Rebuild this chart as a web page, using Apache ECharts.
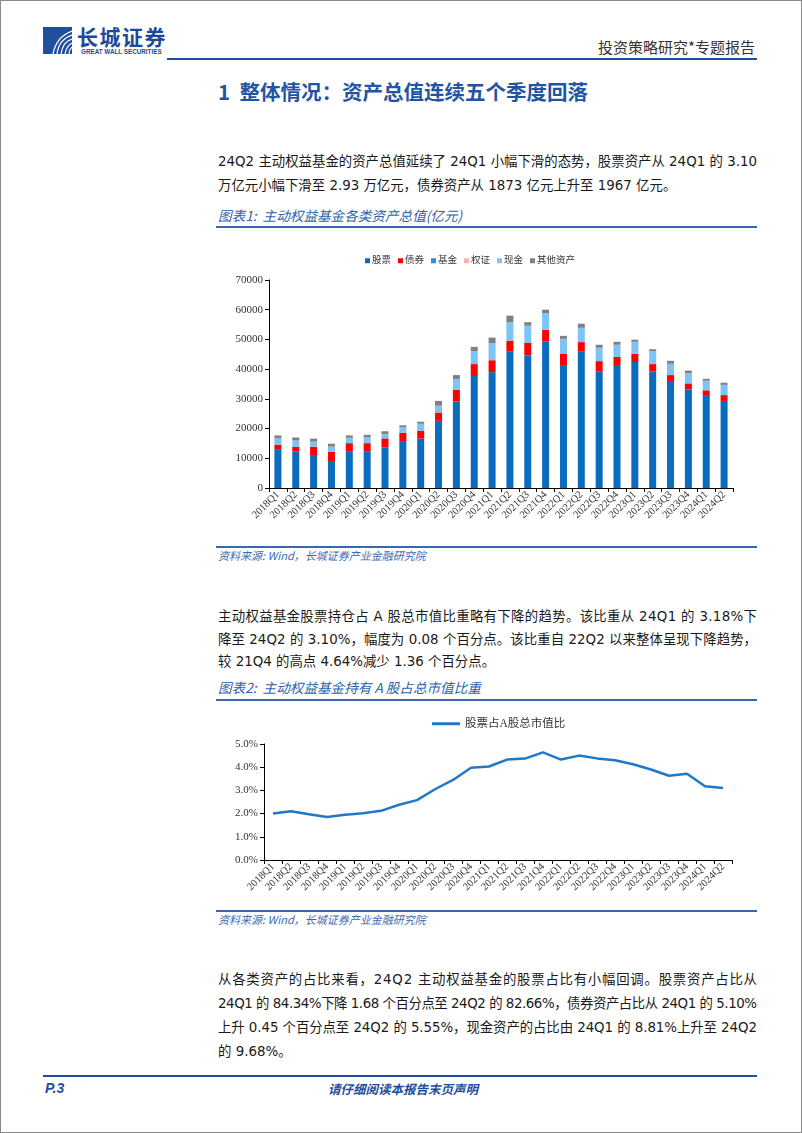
<!DOCTYPE html>
<html><head><meta charset="utf-8">
<script src="https://cdn.jsdelivr.net/npm/echarts@6/dist/echarts.min.js"></script>
<style>
html,body{margin:0;padding:0;background:#fff;}
body{width:802px;height:1133px;position:relative;overflow:hidden;font-family:"DejaVu Sans","Noto Sans CJK SC",sans-serif;}
.abs{position:absolute;}
.frame{left:0;top:0;width:802px;height:1133px;box-sizing:border-box;border:1px solid #8a8a8a;}
.para div{position:absolute;left:218px;font-size:13.4px;color:#1a1a1a;white-space:nowrap;}
.cap{left:218px;font-size:13.6px;font-style:italic;color:#2f63ad;font-family:"Noto Sans CJK SC",sans-serif;}
.src{left:218px;font-size:11px;font-style:italic;color:#3a6cb5;font-family:"Noto Sans CJK SC",sans-serif;}
.hline{height:1.5px;background:#3c67a8;left:216px;width:541px;}
</style></head>
<body>
<div class="abs frame"></div>
<!-- header -->
<svg class="abs" style="left:43px;top:27px" width="29" height="27" viewBox="0 0 29 27">
<rect x="0" y="0" width="29" height="27" fill="#1f4f9e"/>
<path d="M29 4 C18 8 12 16 10 27" stroke="#fff" stroke-width="1.2" fill="none"/>
<path d="M29 8 C20 11 15 18 14 27" stroke="#fff" stroke-width="1.2" fill="none"/>
<path d="M29 12 C22 14 19 20 18 27" stroke="#fff" stroke-width="1.2" fill="none"/>
<path d="M29 16 C25 18 23 22 22 27" stroke="#fff" stroke-width="1.2" fill="none"/>
<path d="M29 20 C27 22 26 24 26 27" stroke="#fff" stroke-width="1.2" fill="none"/>
</svg>
<div class="abs" style="left:77px;top:24px;font-size:21px;font-weight:bold;color:#1c4a98;font-family:'Noto Sans CJK SC';letter-spacing:1.5px;line-height:24px">长城证券</div>
<div class="abs" style="left:81px;top:48px;font-size:6.3px;font-weight:bold;color:#1c4a98;font-family:'Liberation Sans';line-height:7px">GREAT WALL SECURITIES</div>
<div class="abs" style="left:598px;top:37px;font-size:15px;color:#333;font-family:'Noto Sans CJK SC';line-height:19px">投资策略研究*专题报告</div>
<div class="abs" style="left:167px;top:58px;width:590px;height:2px;background:#1f4e9c"></div>
<div class="abs" style="left:218px;top:78px;font-size:20.5px;font-weight:bold;color:#1f55a5;font-family:'Noto Sans CJK SC';line-height:26px">1&nbsp;&nbsp;整体情况：资产总值连续五个季度回落</div>

<div class="para">
<div class="just" style="top:150px">24Q2 主动权益基金的资产总值延续了 24Q1 小幅下滑的态势，股票资产从 24Q1 的 3.10</div>
<div style="top:174px">万亿元小幅下滑至 2.93 万亿元，债券资产从 1873 亿元上升至 1967 亿元。</div>
</div>
<div class="abs cap" style="top:205px">图表1:&nbsp;&nbsp;主动权益基金各类资产总值(亿元)</div>
<div class="abs hline" style="top:226px"></div>
<div id="c1" class="abs" style="left:210px;top:230px;width:560px;height:315px"></div>
<div class="abs hline" style="top:546px"></div>
<div class="abs src" style="top:547px">资料来源:&nbsp;Wind，长城证券产业金融研究院</div>

<div class="para">
<div class="just" style="top:605px">主动权益基金股票持仓占 A 股总市值比重略有下降的趋势。该比重从 24Q1 的 3.18%下</div>
<div class="just" style="top:628px">降至 24Q2 的 3.10%，幅度为 0.08 个百分点。该比重自 22Q2 以来整体呈现下降趋势，</div>
<div style="top:650px">较 21Q4 的高点 4.64%减少 1.36 个百分点。</div>
</div>
<div class="abs cap" style="top:677px">图表2:&nbsp;&nbsp;主动权益基金持有 A 股占总市值比重</div>
<div class="abs hline" style="top:699px"></div>
<div id="c2" class="abs" style="left:210px;top:705px;width:560px;height:203px"></div>
<div class="abs hline" style="top:910px"></div>
<div class="abs src" style="top:911px">资料来源:&nbsp;Wind，长城证券产业金融研究院</div>

<div class="para">
<div class="just" style="top:968px">从各类资产的占比来看，24Q2 主动权益基金的股票占比有小幅回调。股票资产占比从</div>
<div class="just" style="top:992px">24Q1 的 84.34%下降 1.68 个百分点至 24Q2 的 82.66%，债券资产占比从 24Q1 的 5.10%</div>
<div class="just" style="top:1016px">上升 0.45 个百分点至 24Q2 的 5.55%，现金资产的占比由 24Q1 的 8.81%上升至 24Q2</div>
<div style="top:1040px">的 9.68%。</div>
</div>

<div class="abs" style="left:43px;top:1075px;width:714px;height:2px;background:#1f4e9c"></div>
<div class="abs" style="left:45px;top:1080px;font-size:14px;font-weight:bold;font-style:italic;color:#1f4e9c;font-family:'Liberation Sans'">P.3</div>
<div class="abs" style="left:328px;top:1079px;font-size:12.5px;font-weight:bold;font-style:italic;color:#1f4e9c;font-family:'Noto Sans CJK SC'">请仔细阅读本报告末页声明</div>

<script>
// fit justified text lines to 539px width
document.querySelectorAll('.just').forEach(el=>{
  const target = 539;
  const n = el.textContent.length;
  const w = el.getBoundingClientRect().width;
  el.style.letterSpacing = ((target - w) / (n - 1)) + 'px';
});

const categories = ['2018Q1','2018Q2','2018Q3','2018Q4','2019Q1','2019Q2','2019Q3','2019Q4','2020Q1','2020Q2','2020Q3','2020Q4','2021Q1','2021Q2','2021Q3','2021Q4','2022Q1','2022Q2','2022Q3','2022Q4','2023Q1','2023Q2','2023Q3','2023Q4','2024Q1','2024Q2'];
const stock = [13100,12300,11100,9100,12400,12400,13700,15800,16600,22600,29100,37700,39000,45900,44700,49400,41400,45900,39300,41400,42400,39200,36000,33200,31000,29300];
const bond = [1500,1600,2800,3100,2700,2700,3000,2800,2700,2800,4000,4000,4000,3700,4100,3900,3700,3200,3400,2700,2800,2500,2000,2000,1873,1967];
const fund = [0,0,0,0,0,0,0,0,0,0,0,0,0,0,0,0,0,0,0,0,0,0,0,0,0,0];
const warrant = [0,0,0,0,0,0,0,0,0,0,0,0,0,0,0,0,0,0,0,0,0,0,0,0,0,0];
const cash = [2100,2100,1700,1700,1800,1900,1500,1800,2300,2300,3600,4400,5800,6100,5800,5600,5100,4800,4500,4100,4000,4400,3800,3400,3238,3430];
const other = [1000,1000,1000,1000,800,900,900,700,700,1600,1300,1400,1800,2300,1200,1100,1000,1400,1000,1000,700,600,1000,900,650,750];
const ratio = [2.00,2.10,1.97,1.85,1.95,2.02,2.12,2.38,2.58,3.05,3.45,3.98,4.03,4.33,4.37,4.64,4.33,4.50,4.38,4.30,4.13,3.90,3.63,3.72,3.18,3.10];

const serif = "'Liberation Serif','Noto Sans CJK SC',serif";
const axisCommon = {
  axisLine:{show:true,lineStyle:{color:'#000',width:1}},
  axisTick:{show:true,length:4,lineStyle:{color:'#000'}},
  splitLine:{show:false}
};
const xAxisCommon = Object.assign({}, axisCommon, {
  type:'category', data:categories,
  axisTick:{show:true,length:4,alignWithLabel:false,interval:0,lineStyle:{color:'#000'}},
  axisLabel:{rotate:45,interval:0,fontSize:10.5,fontFamily:serif,color:'#333',margin:5}
});

const c1 = echarts.init(document.getElementById('c1'));
const names = ['股票','债券','基金','权证','现金','其他资产'];
const colors = ['#0a6cbf','#ff0000','#2f8fdc','#f4b4b4','#7cc3f6','#808080'];
const sdata = [stock,bond,fund,warrant,cash,other];
c1.setOption({
  animation:false,
  legend:{top:21,left:150,itemWidth:5,itemHeight:5,itemGap:7,icon:'rect',
    textStyle:{fontSize:9.5,fontFamily:serif,color:'#333',padding:[0,0,0,-3]},data:names},
  grid:{left:59,top:50,width:464,height:208},
  xAxis:xAxisCommon,
  yAxis:Object.assign({},axisCommon,{type:'value',min:0,max:70000,interval:10000,
    axisLabel:{fontSize:11,fontFamily:serif,color:'#333',margin:6,formatter:v=>String(v)}}),
  series:names.map((n,i)=>({name:n,type:'bar',stack:'total',barWidth:7,data:sdata[i],itemStyle:{color:colors[i]}}))
});

const c2 = echarts.init(document.getElementById('c2'));
c2.setOption({
  animation:false,
  legend:{top:8,left:217,itemWidth:28,itemHeight:3,icon:'rect',itemGap:5,
    textStyle:{fontSize:11.5,fontFamily:serif,color:'#333'},data:['股票占A股总市值比']},
  grid:{left:54,top:39,width:468,height:116},
  xAxis:xAxisCommon,
  yAxis:Object.assign({},axisCommon,{type:'value',min:0,max:5,interval:1,
    axisLabel:{fontSize:11,fontFamily:serif,color:'#333',margin:6,formatter:v=>v.toFixed(1)+'%'}}),
  series:[{name:'股票占A股总市值比',type:'line',data:ratio,symbol:'none',lineStyle:{width:2.5,color:'#1f78c8'},itemStyle:{color:'#1f78c8'}}]
});
</script>
</body></html>
